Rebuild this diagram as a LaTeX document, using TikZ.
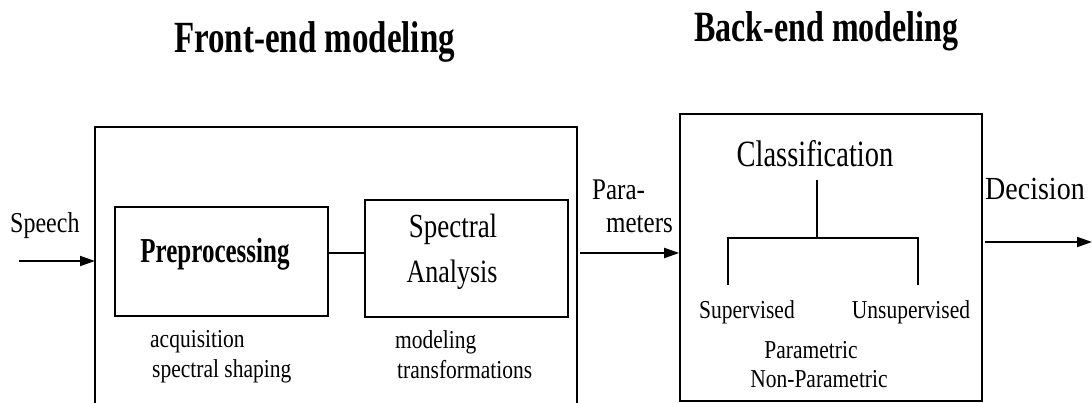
\documentclass[tikz,border=0pt]{standalone}
\usepackage{fontspec}
\setmainfont{Liberation Serif}
\usetikzlibrary{arrows.meta}
\newcommand\vtxt[3]{{\fontsize{#1}{#1}\selectfont\scalebox{1}[#2]{#3}}}
\newcommand\vbf[3]{{\fontsize{#1}{#1}\selectfont\bfseries\scalebox{1}[#2]{#3}}}
\tikzset{
  box/.style={draw, line width=1.6pt, inner sep=0pt},
  conn/.style={line width=1.8pt},
  arr/.style={conn, -{Triangle[length=15pt,width=10pt]}},
  tree/.style={line width=2.2pt},
  txt/.style={inner sep=0pt, anchor=base west},
  ctxt/.style={inner sep=0pt, anchor=base},
  rtxt/.style={inner sep=0pt, anchor=base east},
}
\begin{document}
\begin{tikzpicture}[x=1pt,y=-1pt]
\useasboundingbox (0,0) rectangle (1092,403);
% titles
\node[txt] (t1) at (174,53) {\vbf{33}{1.35}{Front-end modeling}};
\node[txt] (t2) at (694,42) {\vbf{32}{1.35}{Back-end modeling}};
% front-end outer box (bottom cut off)
\coordinate (fbl) at (95,403);
\coordinate (ftl) at (95,127);
\coordinate (ftr) at (577,127);
\coordinate (fbr) at (577,403);
\draw[line width=1.6pt] (fbl) -- (ftl) -- (ftr) -- (fbr);
% speech input
\node[txt] (speech) at (10,233) {\vtxt{24}{1.2}{Speech}};
\coordinate (sin) at (19,261);
\draw[arr] (sin) -- (ftl |- sin);
% preprocessing
\node[box, minimum width=213pt, minimum height=109pt] (pre) at (221.5,261.5) {};
\node[ctxt] (pretxt) at (215,263) {\vbf{25}{1.4}{Preprocessing}};
\node[txt] (acq) at (150,347) {\vtxt{21.5}{1.2}{acquisition}};
\node[txt] (shp) at (152,377) {\vtxt{21.5}{1.2}{spectral shaping}};
% spectral analysis
\node[box, minimum width=203pt, minimum height=117pt] (spec) at (466.5,258.5) {};
\node[ctxt] (spec1) at (453,238) {\vtxt{27}{1.25}{Spectral}};
\node[ctxt] (spec2) at (452,283) {\vtxt{26}{1.25}{Analysis}};
\node[txt] (mod) at (395,348) {\vtxt{21.5}{1.2}{modeling}};
\node[txt] (trf) at (397,378) {\vtxt{21.5}{1.2}{transformations}};
\coordinate (lk) at (0,253);
\draw[conn] (pre.east |- lk) -- (spec.west |- lk);
% back-end box
\node[box, minimum width=302pt, minimum height=287pt] (back) at (831,257.5) {};
% parameters
\node[txt] (para1) at (592,200) {\vtxt{25}{1.2}{Para-}};
\node[rtxt] (para2) at (673,233) {\vtxt{25}{1.2}{meters}};
\coordinate (pout) at (580,253);
\draw[arr] (pout) -- (back.west |- pout);
% classification tree
\node[ctxt] (cls) at (815,167) {\vtxt{28.5}{1.3}{Classification}};
\coordinate (ctop) at (817,180);
\coordinate (cj) at (817,238);
\coordinate (lj) at (728,238);
\coordinate (rj) at (918,238);
\coordinate (lb) at (728,285);
\coordinate (rb) at (918,285);
\draw[tree] (ctop) -- (cj);
\draw[tree] (lb) -- (lj) -- (rj) -- (rb);
\node[ctxt] (sup) at (747,318) {\vtxt{21.5}{1.2}{Supervised}};
\node[ctxt] (uns) at (911,318) {\vtxt{21.5}{1.2}{Unsupervised}};
\node[ctxt] (par) at (811,358) {\vtxt{21.5}{1.2}{Parametric}};
\node[ctxt] (npar) at (819,387) {\vtxt{21.5}{1.2}{Non-Parametric}};
% decision
\node[txt] (dec) at (985,200) {\vtxt{28}{1.15}{Decision}};
\coordinate (dout) at (985,242);
\coordinate (dend) at (1092,242);
\draw[arr] (dout) -- (dend);
\end{tikzpicture}
\end{document}
